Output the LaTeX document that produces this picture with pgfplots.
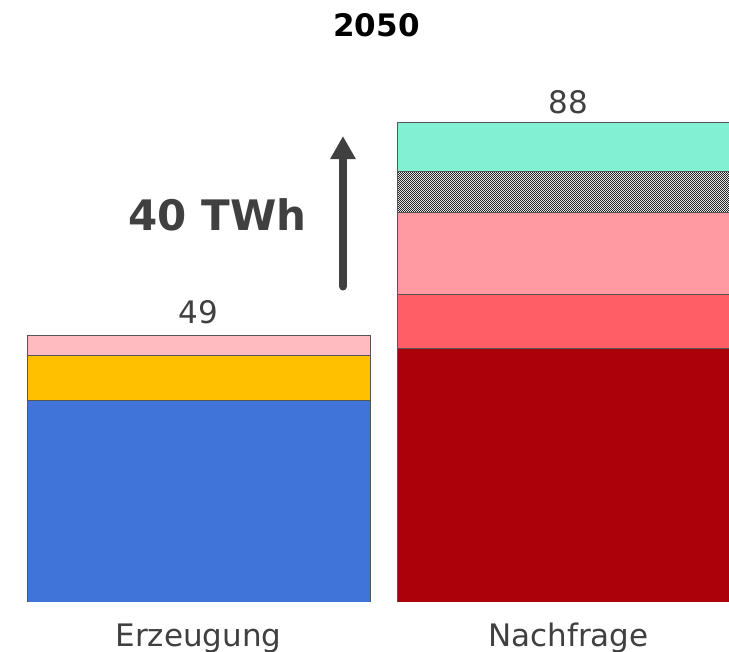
\documentclass[border=0pt]{standalone}
\usepackage{pgfplots}
\pgfplotsset{compat=1.18}
\usepackage{fontspec}
\setmainfont{DejaVu Sans}
\usetikzlibrary{patterns,arrows.meta}

% fine dither pattern for the hatched segment
\pgfdeclarepatternformonly{finecheck}{\pgfpointorigin}{\pgfqpoint{2.4bp}{2.4bp}}{\pgfqpoint{2.4bp}{2.4bp}}{%
  \pgfpathrectangle{\pgfpointorigin}{\pgfqpoint{1.2bp}{1.2bp}}%
  \pgfpathrectangle{\pgfqpoint{1.2bp}{1.2bp}}{\pgfqpoint{1.2bp}{1.2bp}}%
  \pgfusepath{fill}}

\definecolor{cblue}{HTML}{4174D9}
\definecolor{corange}{HTML}{FFC000}
\definecolor{cpink}{HTML}{FFBBBF}
\definecolor{cdarkred}{HTML}{AC000A}
\definecolor{cred}{HTML}{FF5E66}
\definecolor{clightpink}{HTML}{FF9AA2}
\definecolor{cteal}{HTML}{82F0D2}
\definecolor{edge}{HTML}{555555}
\definecolor{txt}{HTML}{404040}

\begin{document}
\begin{tikzpicture}
\begin{axis}[
    scale only axis,
    width=729bp, height=602bp,
    xmin=-0.53649, xmax=1.43378,
    ymin=0, ymax=110.56,
    ybar stacked,
    bar width=0.927,
    axis line style={draw=none},
    tick style={draw=none},
    ytick=\empty,
    xtick={0,1},
    xticklabels={Erzeugung,Nachfrage},
    xticklabel style={anchor=base, yshift=-44bp, text=txt,
        font=\fontsize{31bp}{36bp}\selectfont},
    every axis plot/.append style={draw=edge, line width=0.8bp},
]
% Erzeugung
\addplot[fill=cblue] coordinates {(0,37.1) (1,0)};
\addplot[fill=corange] coordinates {(0,8.25) (1,0)};
\addplot[fill=cpink] coordinates {(0,3.65) (1,0)};
% Nachfrage
\addplot[fill=cdarkred] coordinates {(0,0) (1,46.5)};
\addplot[fill=cred] coordinates {(0,0) (1,9.9)};
\addplot[fill=clightpink] coordinates {(0,0) (1,15.1)};
\addplot[fill=white, postaction={pattern=finecheck, pattern color=black!85}] coordinates {(0,0) (1,7.5)};
\addplot[fill=cteal] coordinates {(0,0) (1,9.0)};

\node[anchor=base, text=txt, font=\fontsize{31bp}{36bp}\selectfont] at (axis cs:0,51.06) {49};
\node[anchor=base, text=txt, font=\fontsize{31bp}{36bp}\selectfont] at (axis cs:1,89.8) {88};
\node[anchor=base, text=black, font=\fontsize{31bp}{36bp}\selectfont\bfseries] at (axis cs:0.481,103.77) {2050};
\node[anchor=base, text=txt, font=\fontsize{42bp}{48bp}\selectfont\bfseries] at (axis cs:0.0514,68.3) {40 TWh};
\draw[line width=8bp, color=txt, line cap=round, -{Triangle[width=24bp,length=23bp]}]
    (axis cs:0.3905,57.94) -- (axis cs:0.3905,85.58);

\coordinate (bl) at (rel axis cs:0,0);
\coordinate (tr) at (rel axis cs:1,1);
\end{axis}
\pgfresetboundingbox
\path[use as bounding box] ([yshift=-50bp]bl) rectangle (tr);
\end{tikzpicture}
\end{document}
